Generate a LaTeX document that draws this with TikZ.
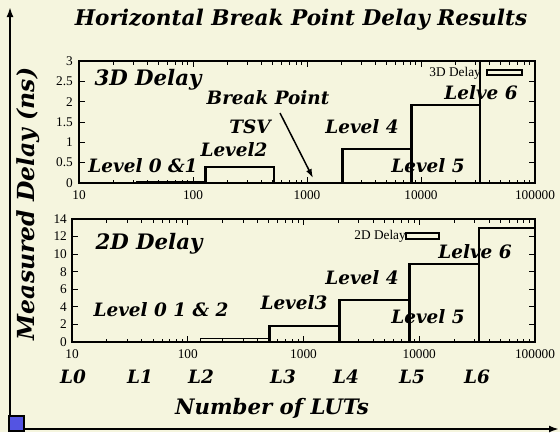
\documentclass[tikz,border=0pt]{standalone}
\usepackage{fontspec}
\newfontfamily\tickfont{Liberation Serif}
\newfontfamily\labelfont{DejaVu Serif}
\usetikzlibrary{arrows.meta}
\definecolor{paper}{RGB}{245,245,222}
\definecolor{cornerblue}{RGB}{84,84,226}
\tikzset{
  lbl/.style={font=\fontsize{18.4}{18}\labelfont\bfseries\itshape, inner sep=0pt},
  biglbl/.style={font=\fontsize{21.3}{21}\labelfont\bfseries\itshape, inner sep=0pt},
  ticklbl/.style={font=\fontsize{13.3}{13.3}\tickfont, inner sep=0pt},
  tickline/.style={line width=0.8pt},
  frame/.style={line width=1.6pt},
  bar/.style={line width=2.7pt},
  thinbar/.style={line width=1pt}
}
\begin{document}
\begin{tikzpicture}[x=1pt,y=-1pt]
        \fill[paper] (0,0) rectangle (560,432);
        \useasboundingbox (0,0) rectangle (560,432);
        % title and axis titles
        \node[biglbl, font=\fontsize{21.6}{22}\labelfont\bfseries\itshape] (title) at (301,20) {Horizontal Break Point Delay Results};
        \node[biglbl, rotate=90, font=\fontsize{23.5}{23}\labelfont\bfseries\itshape] (ytitle) at (28,204) {Measured Delay (ns)};
        \node[biglbl] (xtitle) at (272,408) {Number of LUTs};
        \foreach \i/\x in {0/73,1/140,2/201,3/283,4/346,5/412,6/477}
        {
                \node[lbl] (lev\i) at (\x,377) {L\i};
        }
        % top plot: ticks
        \foreach \d in {0,...,3}
        {
                \foreach \m in {2,...,9}
                {
                        \pgfmathsetmacro\xx{79+114*(\d+ln(\m)/ln(10))}
                        \draw[tickline] (\xx,183) -- (\xx,179.5);
                        \draw[tickline] (\xx,61) -- (\xx,64.5);
                }
        }
        \foreach \d/\t in {0/10,1/100,2/1000,3/10000,4/100000}
        {
                \draw[tickline] (79+114*\d,183) -- (79+114*\d,177);
                \draw[tickline] (79+114*\d,61) -- (79+114*\d,67);
                \node[ticklbl] (ta\d) at (79+114*\d,195) {\t};
        }
        \foreach \v/\t in {0/0,0.5/0.5,1/1,1.5/1.5,2/2,2.5/2.5,3/3}
        {
                \draw[tickline] (79,183-40.67*\v) -- (85,183-40.67*\v);
                \draw[tickline] (535,183-40.67*\v) -- (529,183-40.67*\v);
                \node[ticklbl, anchor=east] (tl\t) at (73,183-40.67*\v) {\t};
        }
        % top plot: labels
        \node[biglbl] (d3) at (148,80) {3D Delay};
        \node[lbl] (brk) at (268,98) {Break Point};
        \node[lbl] (tsv) at (250,127) {TSV};
        \node[lbl] (a2) at (234,150) {Level2};
        \node[lbl] (a01) at (143,166) {Level 0 \&1};
        \node[lbl] (a4) at (362,127) {Level 4};
        \node[lbl] (a5) at (428,166) {Level 5};
        \node[lbl] (a6) at (481,93) {Lelve 6};
        \node[ticklbl, anchor=east] (key3) at (481,73) {3D Delay};
        \coordinate (tsvtail) at (280,113);
        \coordinate (tsvtip) at (313,178);
        \draw[line width=1.5pt, -{Latex[length=9pt,width=6pt]}] (tsvtail) -- (tsvtip);
        % top plot: bars
        \draw[thinbar] (136.6,183) rectangle (205.2,181);
        \draw[bar] (205.2,183) rectangle (273.9,167);
        \draw[bar] (342.6,183) rectangle (411.3,149);
        \draw[bar] (411.3,183) rectangle (479.9,105);
        \draw[bar] (479.9,183) rectangle (535,61);
        \draw[bar] (487,70) rectangle (522,75);
        \draw[frame] (79,61) rectangle (535,183);
        % bottom plot: ticks
        \foreach \d in {0,...,3}
        {
                \foreach \m in {2,...,9}
                {
                        \pgfmathsetmacro\xx{72+115.75*(\d+ln(\m)/ln(10))}
                        \draw[tickline] (\xx,342) -- (\xx,338.5);
                        \draw[tickline] (\xx,219) -- (\xx,222.5);
                }
        }
        \foreach \d/\t in {0/10,1/100,2/1000,3/10000,4/100000}
        {
                \draw[tickline] (72+115.75*\d,342) -- (72+115.75*\d,336);
                \draw[tickline] (72+115.75*\d,219) -- (72+115.75*\d,225);
                \node[ticklbl] (tb\d) at (72+115.75*\d,354) {\t};
        }
        \foreach \v in {0,2,...,14}
        {
                \draw[tickline] (72,342-8.786*\v) -- (78,342-8.786*\v);
                \draw[tickline] (535,342-8.786*\v) -- (529,342-8.786*\v);
                \node[ticklbl, anchor=east] (bl\v) at (67,342-8.786*\v) {\v};
        }
        % bottom plot: labels
        \node[biglbl] (d2) at (149,244) {2D Delay};
        \node[lbl] (b012) at (161,310) {Level 0 1 \& 2};
        \node[lbl] (b3) at (294,303) {Level3};
        \node[lbl] (b4) at (362,278) {Level 4};
        \node[lbl] (b5) at (428,317) {Level 5};
        \node[lbl] (b6) at (475,252) {Lelve 6};
        \node[ticklbl, anchor=east] (key2) at (406,236) {2D Delay};
        % bottom plot: bars
        \draw[thinbar] (200.2,342) rectangle (269.8,338.5);
        \draw[bar] (269.8,342) rectangle (339.5,326);
        \draw[bar] (339.5,342) rectangle (409.2,300);
        \draw[bar] (409.2,342) rectangle (478.9,264);
        \draw[bar] (478.9,342) rectangle (535,228);
        \draw[bar] (406,233) rectangle (439,239);
        \draw[frame] (72,219) rectangle (535,342);
        % outer axes
        \coordinate (origin) at (10,430);
        \coordinate (yend) at (10,7);
        \coordinate (xend) at (559,429);
        \draw[line width=2pt, -{Latex[length=10pt,width=7pt]}] (origin) -- (yend);
        \draw[line width=2pt, -{Latex[length=10pt,width=7pt]}] (9,429) -- (xend);
        \draw[fill=cornerblue, line width=1.2pt] (9,416) rectangle (24,431);
\end{tikzpicture}
\end{document}
